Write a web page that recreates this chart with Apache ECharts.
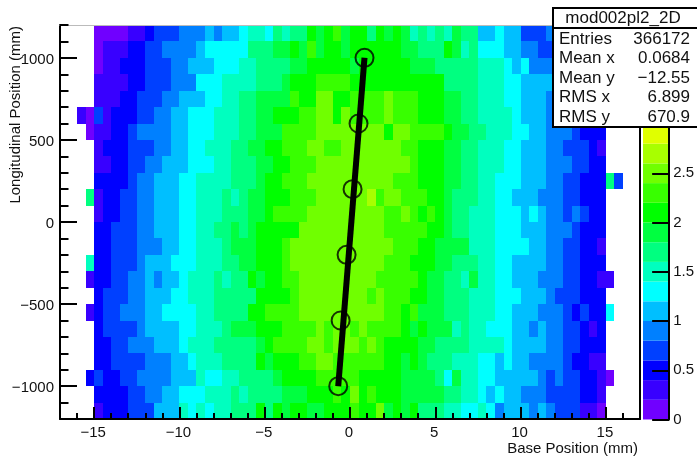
<!DOCTYPE html>
<html><head><meta charset="utf-8">
<style>html,body{margin:0;padding:0;background:#fff}#c{width:697px;height:456px}</style>
<script src="https://cdn.jsdelivr.net/npm/echarts@6/dist/echarts.min.js"></script>
</head><body><div id="c"></div>
<script>
// Bin rows, top (1100..1200) to bottom (-1200..-1100); columns -15 .. 15 in 0.5 steps
const row1150=[.1,.1,.1,.1,.3,.3,.5,.7,.7,.7,.9,.9,.9,1.1,.9,1.1,1.1,1.3,1.5,1.5,1.3,1.7,1.5,1.7,1.7,2.1,1.9,2.1,2.3,1.9, 2.1,2.1,1.7,2.1,1.9,2.1,1.9,1.5,1.7,1.5,1.7,1.5,1.9,1.7,1.7,1.1,1.1,1.3,1.1,1.1,.7,.7,.7,.9,.9,.7,.7,.5,.5,.3];
const row1050=[.1,.3,.3,.3,.5,.5,.7,.7,.9,.9,.9,.9,1.1,1.3,1.3,1.3,1.3,1.3,1.7,1.7,1.7,1.9,1.9,2.1,1.9,2.3,1.9,2.1,2.1,1.9, 2.1,2.1,2.1,2.1,2.1,2.1,1.9,1.9,1.7,1.7,1.7,2.1,1.9,1.5,1.7,1.3,1.3,1.3,1.1,1.1,.9,.9,.7,.7,.7,.7,.5,.5,.3,.1];
const row950=[.1,.3,.3,.5,.5,.5,.7,.7,.7,.9,.9,1.1,1.1,1.1,1.3,1.3,1.3,1.5,1.5,1.7,1.7,1.7,1.7,1.9,1.9,2.1,2.1,2.1,2.1,2.1, 1.9,2.1,2.1,2.1,2.1,2.1,2.1,1.9,1.9,1.9,1.7,1.7,1.7,1.7,1.7,1.5,1.5,1.5,1.3,1.1,1.3,.9,.9,.9,.7,.7,.5,.5,.3,.1];
const row850=[.3,.3,.3,.3,.5,.5,.7,.7,.7,.9,.9,.9,1.3,1.3,1.3,1.5,1.5,1.5,1.5,1.7,1.7,1.7,1.9,2.1,2.1,2.1,2.3,2.3,2.3,2.3, 2.1,2.1,2.1,2.1,2.1,2.1,2.1,2.1,2.1,2.1,2.1,1.7,1.7,1.7,1.7,1.5,1.5,1.5,1.3,1.3,1.1,1.1,1.1,1.1,.9,.7,.7,.5,.5,.3];
const row750=[.3,.3,.3,.5,.5,.7,.7,.7,.9,.9,1.1,1.1,1.1,1.3,1.3,1.5,1.5,1.7,1.7,1.9,1.9,1.9,1.9,2.3,2.1,2.1,2.5,2.5,2.1,2.1, 2.3,2.3,2.3,2.3,2.5,2.3,2.3,2.3,2.1,2.1,2.1,1.9,1.9,1.7,1.7,1.5,1.5,1.5,1.3,1.3,1.1,1.1,1.1,.9,.9,.7,.7,.5,.5,.3];
const row650=[.7,.3,.5,.5,.5,.7,.7,.9,.9,1.1,1.1,1.3,1.3,1.3,1.5,1.5,1.5,1.7,1.7,1.9,1.9,2.1,2.1,2.1,2.3,2.3,2.5,2.5,2.1,2.5, 2.3,2.3,2.3,2.3,2.5,2.3,2.3,2.3,2.1,2.1,2.1,1.9,1.9,1.7,1.7,1.5,1.5,1.5,1.5,1.3,1.1,1.1,1.1,.9,.9,.7,.7,.5,.5,.3];
const row550=[.3,.3,.5,.5,.7,.9,.9,.9,.9,1.1,1.1,1.3,1.3,1.3,1.5,1.5,1.5,1.7,1.7,1.9,1.9,1.9,2.3,2.3,2.3,2.3,2.5,2.5,2.5,2.5, 2.5,2.5,2.5,2.5,2.1,2.5,2.5,2.3,2.3,2.3,2.3,2.1,1.9,1.9,1.7,1.7,1.5,1.5,1.5,1.3,1.3,1.1,1.1,.9,.9,.9,.7,.5,.5,.5];
const row450=[.3,.5,.5,.5,.7,.7,.7,.9,.9,1.1,1.1,1.3,1.3,1.5,1.5,1.5,1.7,1.7,1.9,1.9,2.1,2.1,2.3,2.3,2.3,2.5,2.5,2.3,2.3,2.5, 2.5,2.5,2.5,2.5,2.5,2.5,2.3,2.3,2.1,2.1,2.1,1.9,1.9,1.7,1.7,1.5,1.5,1.5,1.3,1.3,1.1,1.1,1.1,.9,.9,.7,.7,.7,.5,.3];
const row350=[.3,.3,.5,.5,.7,.7,.9,.9,1.1,1.1,1.1,1.3,1.3,1.3,1.5,1.5,1.7,1.7,1.7,1.9,1.9,2.1,2.1,2.3,2.3,2.3,2.5,2.5,2.5,2.5, 2.5,2.5,2.5,2.5,2.5,2.5,2.5,2.3,2.1,2.1,2.1,1.9,1.9,1.7,1.7,1.5,1.5,1.5,1.3,1.3,1.1,1.1,1.1,.9,.9,.9,.7,.7,.5,.5];
const row250=[.5,.5,.5,.5,.7,.9,.9,1.1,1.1,1.1,1.3,1.3,1.5,1.5,1.5,1.5,1.7,1.7,1.7,1.9,2.1,2.1,2.3,2.3,2.3,2.5,2.5,2.5,2.5,2.5, 2.5,2.5,2.5,2.5,2.5,2.3,2.3,2.3,2.1,2.1,2.1,1.9,1.9,1.7,1.7,1.5,1.5,1.3,1.3,1.3,1.1,1.1,1.1,.9,.9,.7,.7,.5,.5,.5];
const row150=[.3,.5,.5,.7,.7,.9,.9,1.1,1.1,1.1,1.3,1.3,1.5,1.5,1.5,1.7,1.5,1.7,1.9,1.9,2.1,2.1,2.1,2.3,2.3,2.3,2.5,2.5,2.5,2.5, 2.5,2.5,2.7,2.3,2.5,2.5,2.3,2.3,2.3,2.1,2.1,1.9,1.7,1.7,1.7,1.5,1.5,1.3,1.3,1.1,1.1,1.1,.9,.9,.9,.7,.7,.5,.5,.5];
const row50=[.3,.5,.5,.7,.7,.9,.9,1.1,1.1,1.1,1.3,1.3,1.5,1.5,1.5,1.7,1.7,1.7,1.9,1.9,2.1,2.3,2.3,2.3,2.3,2.5,2.5,2.5,2.5,2.5, 2.5,2.5,2.5,2.5,2.3,2.3,2.5,2.3,2.1,2.3,2.1,1.9,1.7,1.7,1.5,1.5,1.5,1.3,1.3,1.3,1.1,1.3,1.1,.9,.9,.7,.9,.7,.5,.5];
const rowM50=[.5,.5,.7,.7,.7,.9,.9,1.1,1.1,1.1,1.3,1.3,1.5,1.5,1.7,1.7,1.9,1.7,1.9,2.1,2.1,2.1,2.1,2.1,2.5,2.5,2.5,2.5,2.5,2.5, 2.5,2.5,2.5,2.5,2.3,2.3,2.3,2.3,2.3,2.1,2.1,1.9,1.7,1.7,1.5,1.5,1.5,1.3,1.3,1.3,1.1,1.1,1.1,.9,.9,.9,.7,.5,.5,.5];
const rowM150=[.5,.5,.7,.7,.7,.9,.9,.9,1.1,1.1,1.3,1.3,1.5,1.5,1.5,1.7,1.9,1.9,1.9,2.1,2.1,2.1,2.3,2.5,2.5,2.5,2.5,2.5,2.5,2.5, 2.5,2.5,2.5,2.5,2.5,2.3,2.3,2.3,2.1,2.1,1.9,1.9,1.9,1.9,1.5,1.5,1.5,1.3,1.3,1.3,1.3,1.1,1.1,.9,.9,.7,.7,.5,.5,.3];
const rowM250=[.5,.5,.7,.7,.7,.9,1.1,1.1,1.1,1.3,1.3,1.3,1.5,1.5,1.5,1.7,1.7,1.9,1.9,2.1,2.1,2.1,2.3,2.5,2.5,2.5,2.5,2.5,2.5,2.5, 2.5,2.5,2.5,2.5,2.3,2.3,2.3,2.1,2.1,2.1,1.9,1.9,1.7,1.7,1.7,1.5,1.5,1.3,1.3,1.1,1.1,1.1,1.1,.9,.9,.7,.7,.5,.5,.5];
const rowM350=[.5,.5,.7,.7,.9,.9,1.1,.9,1.1,1.1,1.3,1.5,1.5,1.5,1.7,1.5,1.7,1.7,2.1,1.9,2.1,2.1,2.3,2.3,2.5,2.5,2.5,2.5,2.5,2.5, 2.5,2.5,2.5,2.3,2.3,2.3,2.3,2.3,2.1,1.9,1.9,1.7,1.7,1.5,1.9,1.5,1.5,1.3,1.3,1.1,1.1,1.1,.9,.9,.9,.7,.7,.5,.5,.3];
const rowM450=[.5,.7,.7,.7,.9,.9,1.1,1.1,1.1,1.3,1.3,1.5,1.5,1.5,1.7,1.7,1.7,1.7,1.7,2.1,2.1,2.1,2.1,2.3,2.5,2.5,2.5,2.5,2.5,2.5, 2.5,2.5,2.3,2.5,2.3,2.3,2.3,2.1,2.1,1.9,1.9,1.7,1.7,1.7,1.5,1.5,1.5,1.3,1.3,1.3,1.1,1.1,1.1,.9,.7,.7,.7,.5,.5,.5];
const rowM550=[.5,.7,.7,.9,.9,.9,1.1,1.1,1.3,1.3,1.3,1.3,1.5,1.5,1.7,1.7,1.7,1.7,2.1,2.1,2.3,2.3,2.3,2.3,2.5,2.5,2.5,2.5,2.5,2.5, 2.5,2.5,2.5,2.5,2.3,2.3,2.1,2.3,1.9,1.9,1.9,1.7,1.7,1.7,1.5,1.5,1.5,1.3,1.3,1.1,1.1,1.1,.9,.9,.9,.7,.5,.7,.5,.5];
const rowM650=[.5,.7,.7,.7,.7,.9,1.1,1.1,1.1,1.1,1.3,1.3,1.5,1.5,1.5,1.7,1.9,1.9,1.9,2.1,2.1,2.1,2.3,2.3,2.3,2.3,2.5,2.3,2.5,2.5, 2.3,2.5,2.3,2.3,2.3,2.3,2.1,1.9,2.1,1.9,1.9,1.9,1.5,1.7,1.5,1.5,1.3,1.3,1.3,1.1,1.1,.9,1.1,.9,.9,.7,.7,.5,.3,.5];
const rowM750=[.5,.5,.7,.7,.9,.9,.9,1.1,1.1,1.1,1.3,1.5,1.5,1.5,1.7,1.7,1.7,1.7,1.7,1.9,2.1,2.3,2.3,2.3,2.3,2.5,2.5,2.3,2.5,2.5, 2.5,2.3,2.5,2.3,2.1,2.1,2.1,2.1,1.9,1.9,1.7,1.7,1.7,1.7,1.5,1.5,1.5,1.5,1.3,1.1,1.1,1.1,1.1,.9,.9,.7,.7,.5,.5,.5];
const rowM850=[.5,.5,.7,.7,.7,.7,.9,.9,.9,1.1,1.1,1.3,1.5,1.5,1.5,1.7,1.7,1.7,1.7,2.1,1.9,2.1,2.1,2.1,2.3,2.3,2.5,2.5,2.3,2.3, 2.3,2.3,2.3,2.3,2.1,2.1,1.9,2.1,1.9,1.7,1.7,1.7,1.5,1.5,1.5,1.3,1.3,1.1,1.3,1.1,1.1,.9,.9,.9,.9,.7,.5,.5,.3,.3];
const rowM950=[.7,.5,.5,.7,.7,.9,.9,.9,.9,1.1,1.1,1.1,1.5,1.3,1.3,1.5,1.5,1.7,1.7,1.7,1.7,1.9,2.1,2.1,2.1,2.1,2.3,2.3,2.3,2.3, 2.3,2.1,2.1,2.1,2.1,2.1,1.9,1.9,1.9,1.9,1.7,1.3,1.9,1.5,1.5,1.3,1.3,1.1,1.1,1.1,1.1,1.1,.9,.7,.9,.7,.7,.5,.5,.3];
const rowM1050=[.5,.5,.5,.5,.7,.7,.9,.9,1.1,1.1,1.3,1.3,1.3,1.5,1.5,1.5,1.7,1.5,1.7,1.7,1.7,1.7,1.9,1.9,1.9,2.1,2.1,2.1,2.3,2.1, 2.5,2.1,2.3,2.1,2.1,2.1,1.9,1.9,1.9,1.9,1.9,1.7,1.7,1.5,1.5,1.3,1.1,1.3,1.1,1.1,.9,.9,.9,.7,.7,.7,.7,.5,.5,.3];
const rowM1150=[.3,.5,.5,.5,.7,.7,.7,1.1,1.1,1.1,1.5,1.3,1.5,1.3,1.5,1.5,1.7,1.7,1.7,2.1,1.7,2.1,1.9,2.1,2.1,1.9,1.9,2.1,2.1,2.1, 2.3,2.1,2.1,2.5,1.9,2.1,1.9,2.1,1.7,1.7,1.7,1.5,1.5,1.3,1.3,1.5,1.3,.9,1.1,1.1,1.1,.9,1.1,.9,.7,.7,.7,.3,.3,.1];
const valueRows=[row1150,row1050,row950,row850,row750,row650,row550,row450,row350,row250,row150,row50,rowM50,rowM150,rowM250,rowM350,rowM450,rowM550,rowM650,rowM750,rowM850,rowM950,rowM1050,rowM1150];
// Sparse bins outside -15..15: bin start x, bin start y, value
const outerBins=[[-16,600,.3],[-15.5,600,.1],[-15.5,500,.1],[-15.5,100,1.7],[-15.5,-300,1.5],[-15.5,-400,.3],[-15.5,-600,.3],[-15.5,-1000,.5],[15,200,1.7],[15.5,200,.7],[15,-400,.3],[15,-600,1.3],[15,-1000,.1]];
// Fit line markers
const markerX=[-0.69,-0.55,-0.2,0.15,0.5,0.85];
const markerY=[-1000,-600,-200,200,600,1000];
const lineX=[-0.69,0.85];
const lineY=[-1000,1000];
// Colour levels
const paletteColors=['#7000ff','#3800ff','#0000ff','#0040ff','#0080ff','#00bfff','#00ffff','#00ffbf','#00ff80','#00ff40','#00ff00','#38ff00','#70ff00','#a8ff00','#e0ff00'];
const levelStarts=[0,.2,.4,.6,.8,1,1.2,1.4,1.6,1.8,2,2.2,2.4,2.6,2.8];
const levelStep=0.2;
const binW=0.5, binH=100;
// Axis ticks
const xMajor=[-15,-10,-5,0,5,10,15];
const xMinor=[-17,-16,-15,-14,-13,-12,-11,-10,-9,-8,-7,-6,-5,-4,-3,-2,-1,0,1,2,3,4,5,6,7,8,9,10,11,12,13,14,15,16,17];
const yMajor=[-1000,-500,0,500,1000];
const yMinor=[-1200,-1100,-1000,-900,-800,-700,-600,-500,-400,-300,-200,-100,0,100,200,300,400,500,600,700,800,900,1000,1100,1200];
// Stats
const statNames=['Entries','Mean x','Mean y','RMS x','RMS y'];
const statValues=['366172','0.0684','\u221212.55','6.899','670.9'];

const FONT='"Liberation Sans",Arial,sans-serif';
const cells=[];
valueRows.forEach((r,i)=>{const y=1100-i*binH;r.forEach((v,j)=>cells.push([-15+j*binW,y,v]));});
outerBins.forEach(b=>cells.push(b));
const paletteCells=levelStarts.map((s,i)=>[s,i]);
const minus=v=>String(v).replace('-','\u2212');

const cellItem=(params,api)=>{
  const x=api.value(0),y=api.value(1),v=api.value(2);
  const a=api.coord([x,y+binH]),b=api.coord([x+binW,y]);
  const l=Math.round(a[0]),t=Math.round(a[1]),r=Math.round(b[0]),d=Math.round(b[1]);
  const idx=Math.min(paletteColors.length-1,Math.floor(v/levelStep));
  return {type:'rect',shape:{x:l,y:t,width:r-l,height:d-t},style:{fill:paletteColors[idx]}};
};
const paletteItem=(params,api)=>{
  const s=api.value(0),i=api.value(1);
  const a=api.coord([0,s+levelStep]),b=api.coord([1,s]);
  return {type:'rect',shape:{x:a[0],y:a[1],width:b[0]-a[0],height:b[1]-a[1]},style:{fill:paletteColors[i]}};
};
const axisLine={onZero:false,lineStyle:{color:'#000',width:2}};
const labelStyle={color:'#111',fontFamily:FONT,fontSize:15};
const nameStyle={color:'#111',fontFamily:FONT,fontSize:15};

const statsGraphic=[
  {type:'rect',z:100,shape:{x:553,y:8,width:146,height:119},style:{fill:'#fff',stroke:'#000',lineWidth:2}},
  {type:'line',z:101,shape:{x1:553,y1:28,x2:699,y2:28},style:{stroke:'#000',lineWidth:2}},
  {type:'text',z:101,x:623,y:18,style:{text:'mod002pl2_2D',font:'17px '+FONT,fill:'#111',align:'center',verticalAlign:'middle'}}
];
statNames.forEach((n,i)=>{
  const y=39+i*19.5;
  statsGraphic.push({type:'text',z:101,x:559,y:y,style:{text:n,font:'17px '+FONT,fill:'#111',align:'left',verticalAlign:'middle'}});
  statsGraphic.push({type:'text',z:101,x:690,y:y,style:{text:statValues[i],font:'17px '+FONT,fill:'#111',align:'right',verticalAlign:'middle'}});
});

const chart=echarts.init(document.getElementById('c'),null,{renderer:'canvas',width:697,height:456});
chart.setOption({
  animation:false,
  backgroundColor:'#fff',
  title:{text:'Module 2 Plane 2',left:349,top:-22,textAlign:'center',textStyle:{fontFamily:FONT,fontSize:21.5,fontWeight:'normal',color:'#111'}},
  grid:[
    {left:60,top:25,width:580,height:394.5},
    {left:643,top:124,width:33.5,height:295.5}
  ],
  xAxis:[
    {gridIndex:0,type:'value',min:-17,max:17,position:'bottom',z:10,
     axisLine:axisLine,splitLine:{show:false},
     axisTick:{inside:true,length:12,lineStyle:{color:'#000',width:2},customValues:xMajor},
     axisLabel:{...labelStyle,margin:6,padding:[0,2,0,0],formatter:minus,customValues:xMajor},
     name:'Base Position (mm)',nameLocation:'end',nameGap:-2,nameMoveOverlap:false,
     nameTextStyle:{...nameStyle,align:'right',verticalAlign:'top',padding:[22,0,0,0]}},
    {gridIndex:0,type:'value',min:-17,max:17,position:'bottom',z:10,
     axisLine:{show:false,onZero:false},splitLine:{show:false},axisLabel:{show:false},
     axisTick:{inside:true,length:6,lineStyle:{color:'#000',width:2},customValues:xMinor}},
    {gridIndex:0,type:'value',min:-17,max:17,position:'top',z:10,
     axisLine:{onZero:false,lineStyle:{color:'#bbb',width:1}},splitLine:{show:false},axisLabel:{show:false},axisTick:{show:false}},
    {gridIndex:1,type:'value',min:0,max:1,show:false}
  ],
  yAxis:[
    {gridIndex:0,type:'value',min:-1200,max:1200,position:'left',z:10,
     axisLine:axisLine,splitLine:{show:false},
     axisTick:{inside:true,length:17,lineStyle:{color:'#000',width:2},customValues:yMajor},
     axisLabel:{...labelStyle,margin:6,verticalAlign:'top',lineHeight:4,formatter:minus,customValues:yMajor},
     name:'Longitudinal Position (mm)',nameLocation:'end',nameRotate:90,nameGap:-1,nameMoveOverlap:false,
     nameTextStyle:{...nameStyle,align:'right',verticalAlign:'bottom',padding:[0,0,37,0]}},
    {gridIndex:0,type:'value',min:-1200,max:1200,position:'left',z:10,
     axisLine:{show:false,onZero:false},splitLine:{show:false},axisLabel:{show:false},
     axisTick:{inside:true,length:8.5,lineStyle:{color:'#000',width:2},customValues:yMinor}},
    {gridIndex:0,type:'value',min:-1200,max:1200,position:'right',z:10,
     axisLine:axisLine,splitLine:{show:false},axisLabel:{show:false},axisTick:{show:false}},
    {gridIndex:1,type:'value',min:0,max:3,interval:0.5,position:'right',z:10,
     axisLine:axisLine,splitLine:{show:false},
     axisTick:{inside:true,length:17,lineStyle:{color:'#000',width:2}},
     axisLabel:{...labelStyle,margin:4}}
  ],
  series:[
    {type:'custom',name:'hist',coordinateSystem:'cartesian2d',xAxisIndex:0,yAxisIndex:0,clip:true,silent:true,
     renderItem:cellItem,data:cells,encode:{x:0,y:1}},
    {type:'custom',name:'palette',coordinateSystem:'cartesian2d',xAxisIndex:3,yAxisIndex:3,silent:true,
     renderItem:paletteItem,data:paletteCells},
    {type:'line',name:'fit',xAxisIndex:0,yAxisIndex:0,z:5,symbol:'none',silent:true,
     lineStyle:{color:'#000',width:6,cap:'butt'},data:lineX.map((x,i)=>[x,lineY[i]])},
    {type:'scatter',name:'points',xAxisIndex:0,yAxisIndex:0,z:6,symbol:'circle',symbolSize:18,silent:true,
     itemStyle:{color:'rgba(0,0,0,0)',borderColor:'#000',borderWidth:2},data:markerX.map((x,i)=>[x,markerY[i]])}
  ],
  graphic:statsGraphic
});
</script></body></html>
